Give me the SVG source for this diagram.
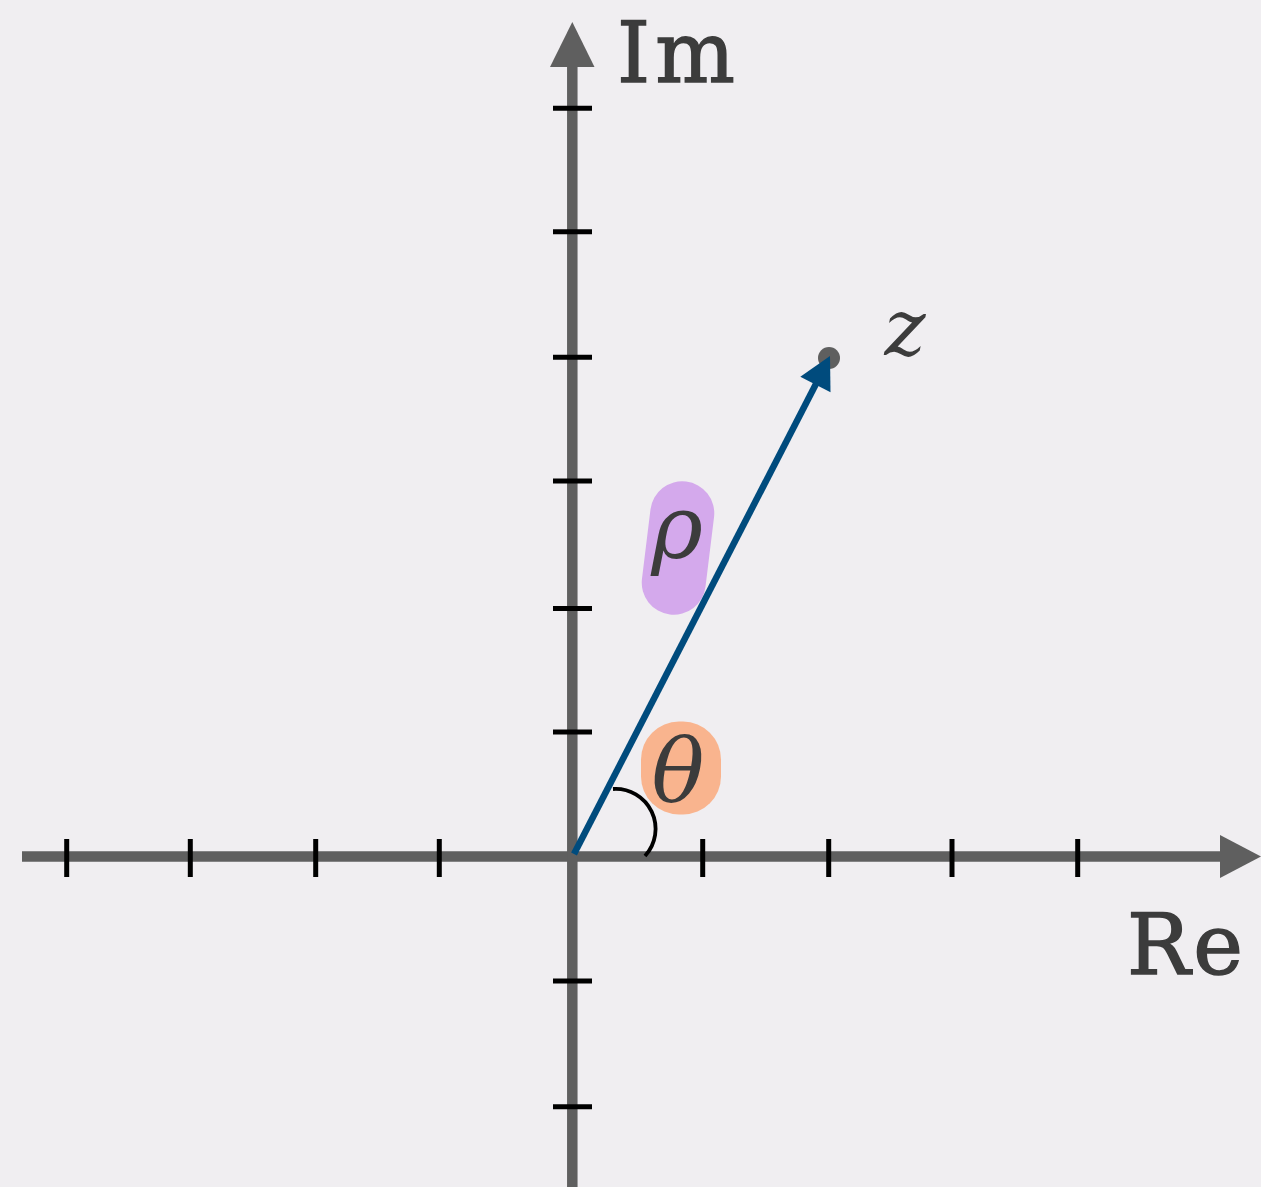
<svg xmlns="http://www.w3.org/2000/svg" width="1261" height="1187" viewBox="0 0 1261 1187">
<style>
.axis{stroke:#5f5f5f;stroke-width:10.5;fill:none}
.head{fill:#5f5f5f}
.tick{stroke:#000;stroke-width:5;fill:none}
.lbl{font-family:'DejaVu Serif',serif;font-size:84px;fill:#3c3c3c;stroke:#3c3c3c;stroke-width:1.5}
.math{font-family:'DejaVu Serif',serif;font-style:italic;font-size:88px;fill:#3c3c3c}
</style>
<rect width="1261" height="1187" fill="#f0eef1"/>
<g id="axes">
<line class="axis" x1="22" y1="856.5" x2="1225" y2="856.5"/>
<polygon class="head" points="1220,835 1261,856.5 1220,878"/>
<line class="axis" x1="572.3" y1="1187" x2="572.3" y2="62"/>
<polygon class="head" points="550,67 572.3,22 594.5,67"/>
</g>
<g id="ticks">
<line class="tick" x1="66.7" y1="839" x2="66.7" y2="877"/>
<line class="tick" x1="190.3" y1="839" x2="190.3" y2="877"/>
<line class="tick" x1="315.7" y1="839" x2="315.7" y2="877"/>
<line class="tick" x1="439.3" y1="839" x2="439.3" y2="877"/>
<line class="tick" x1="702.7" y1="839" x2="702.7" y2="877"/>
<line class="tick" x1="828.7" y1="839" x2="828.7" y2="877"/>
<line class="tick" x1="952" y1="839" x2="952" y2="877"/>
<line class="tick" x1="1077.7" y1="839" x2="1077.7" y2="877"/>
<line class="tick" x1="553" y1="108.3" x2="592" y2="108.3"/>
<line class="tick" x1="553" y1="231.7" x2="592" y2="231.7"/>
<line class="tick" x1="553" y1="357.3" x2="592" y2="357.3"/>
<line class="tick" x1="553" y1="481" x2="592" y2="481"/>
<line class="tick" x1="553" y1="608.6" x2="592" y2="608.6"/>
<line class="tick" x1="553" y1="732.1" x2="592" y2="732.1"/>
<line class="tick" x1="553" y1="981" x2="592" y2="981"/>
<line class="tick" x1="553" y1="1106.8" x2="592" y2="1106.8"/>
</g>
<g id="labels">
<text class="lbl" x="617" y="82" letter-spacing="5">Im</text>
<text class="lbl" x="1127" y="974" letter-spacing="3">Re</text>
</g>
<g id="rho">
<rect x="646" y="481" width="64" height="134" rx="32" fill="#d4a9ec" transform="rotate(7 678 548)"/>
<text class="math" x="677" y="558" text-anchor="middle">ρ</text>
</g>
<g id="theta">
<rect x="641" y="721.5" width="80" height="93" rx="38" fill="#f9b48e"/>
<text class="math" x="678" y="801" text-anchor="middle">θ</text>
</g>
<g id="z">
<circle cx="829" cy="358" r="11" fill="#5f5f5f"/>
<text class="math" x="905" y="355" text-anchor="middle" style="font-size:78px">z</text>
</g>
<g id="connectors">
<path d="M613,789 A40,40 0 0 1 645,856" fill="none" stroke="#000" stroke-width="3.8"/>
<line x1="574" y1="854" x2="818" y2="380" stroke="#004b7d" stroke-width="6.5"/>
<polygon points="830,356 830.5,392.3 800.3,376.7" fill="#004b7d"/>
</g>
</svg>
